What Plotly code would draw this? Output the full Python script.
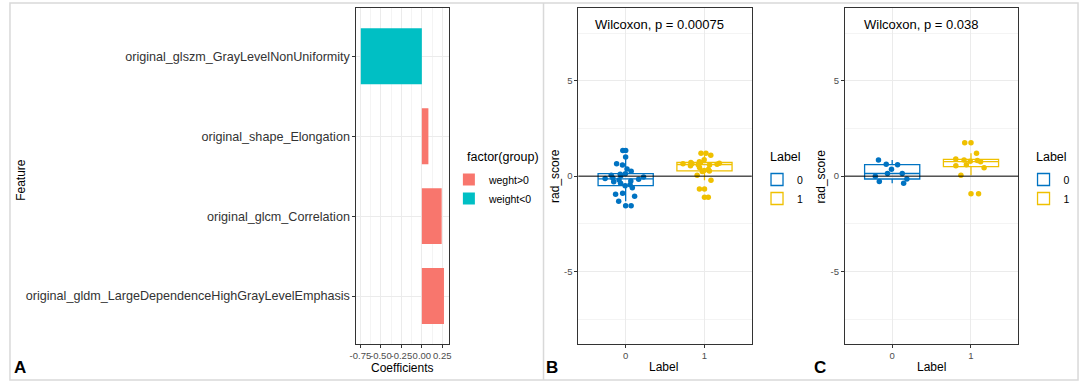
import plotly.graph_objects as go

W, H = 1084, 384

# ---------------- data ----------------
features = [
    "original_glszm_GrayLevelNonUniformity",
    "original_shape_Elongation",
    "original_glcm_Correlation",
    "original_gldm_LargeDependenceHighGrayLevelEmphasis",
]
coefs = [-0.745, 0.08, 0.242, 0.27]
group_names = ["weght>0", "weight<0"]
group_colors = ["#F8766D", "#00BFC4"]

coef_ticks = [-0.75, -0.5, -0.25, 0.0, 0.25]
coef_ticktext = ["-0.75", "-0.50", "-0.25", "0.00", "0.25"]

labels = ["0", "1"]
label_colors = ["#0073C2", "#EFC000"]

b_label0 = [1.35, 1.0, 0.65, 0.58, 0.37, 0.26, 0.13, 0.1, 0.05, 0.02, -0.05, -0.1, -0.12,
            -0.16, -0.2, -0.25, -0.3, -0.37, -0.45, -0.5, -0.61, -0.89, -0.95, -1.06, -1.31, -1.55]
b_label1 = [1.2, 1.1, 1.2, 0.86, 0.75, 0.72, 0.7, 0.68, 0.65, 0.65, 0.62, 0.6, 0.58, 0.55,
            0.45, 0.35, 0.3, 0.27, 0.25, 0.05, -0.22, -0.68, -1.1]
c_label0 = [0.85, 0.63, 0.6, 0.36, 0.14, 0.14, 0.0, -0.15, -0.28, -0.37]
c_label1 = [-0.92, 0.05, 0.44, 0.55, 0.6, 0.75, 0.78, 0.82, 0.85, 0.9, 1.2, 1.75]

score_ticks = [-5, 0, 5]
score_ticktext = ["-5", "0", "5"]
p_text_b = "Wilcoxon, p = 0.00075"
p_text_c = "Wilcoxon, p = 0.038"

# ---------------- helpers ----------------
def px(x):
    return x / W

def py(y):
    return 1 - y / H

FONT = "Liberation Sans, Arial, sans-serif"
TICKC = "#4D4D4D"
BORDER = "#333333"
GRID = "#EBEBEB"
MINOR = "#F4F4F4"

fig = go.Figure()

# ---------------- panel A ----------------
pos_x = [c for c in coefs if c > 0]
pos_y = [f for f, c in zip(features, coefs) if c > 0]
neg_x = [c for c in coefs if c <= 0]
neg_y = [f for f, c in zip(features, coefs) if c <= 0]

fig.add_trace(go.Bar(x=pos_x, y=pos_y, orientation="h", width=0.7, name=group_names[0],
                     marker=dict(color=group_colors[0], line=dict(width=0)),
                     xaxis="x", yaxis="y", legend="legend"))
fig.add_trace(go.Bar(x=neg_x, y=neg_y, orientation="h", width=0.7, name=group_names[1],
                     marker=dict(color=group_colors[1], line=dict(width=0)),
                     xaxis="x", yaxis="y", legend="legend"))

# ---------------- panels B, C ----------------
def add_panel(vals_list, xa, ya, leg):
    for lab, vals, col in zip(labels, vals_list, label_colors):
        xs = [int(lab)] * len(vals)
        # outline box with outliers at centre
        fig.add_trace(go.Box(x=xs, y=vals, name=lab, width=0.7, whiskerwidth=0,
                             boxpoints="outliers", pointpos=0, jitter=0,
                             line=dict(color=col, width=1.3),
                             fillcolor="rgba(255,255,255,0)",
                             marker=dict(color=col, size=5.5),
                             xaxis=xa, yaxis=ya, legend=leg, showlegend=True))
        # jittered points
        fig.add_trace(go.Box(x=xs, y=vals, name=lab, width=0.7, whiskerwidth=0,
                             boxpoints="all", pointpos=0, jitter=0.8,
                             line=dict(color="rgba(0,0,0,0)", width=0),
                             fillcolor="rgba(0,0,0,0)",
                             marker=dict(color=col, size=5.5),
                             xaxis=xa, yaxis=ya, legend=leg, showlegend=False))

add_panel([b_label0, b_label1], "x2", "y2", "legend2")
add_panel([c_label0, c_label1], "x3", "y3", "legend3")

# ---------------- axes ----------------
ydom = [py(344), py(8.3)]
common = dict(showline=True, linecolor=BORDER, linewidth=1, mirror=True,
              ticks="outside", ticklen=3, tickcolor=BORDER, tickwidth=1,
              gridcolor=GRID, gridwidth=1, zeroline=False, tickangle=0,
              tickfont=dict(family=FONT, size=9.5, color=TICKC))

fig.update_layout(
    xaxis=dict(domain=[px(352.7), px(446)], range=[-0.798, 0.33],
               tickvals=coef_ticks, ticktext=coef_ticktext,
               minor=dict(dtick=0.125, tick0=0, showgrid=True, gridcolor=MINOR, ticks=""),
               anchor="y", **common),
    yaxis=dict(domain=ydom, type="category", categoryorder="array",
               categoryarray=features[::-1], range=[-0.6, 3.6], anchor="x",
               **{**common, "tickfont": dict(family=FONT, size=12.6, color="#333333")}),
    xaxis2=dict(domain=[px(576.7), px(751.7)], range=[-0.6, 1.6],
                tickvals=[0, 1], ticktext=labels, anchor="y2", **common),
    yaxis2=dict(domain=ydom, range=[-8.8, 8.8], tickvals=score_ticks, ticktext=score_ticktext,
                minor=dict(dtick=2.5, tick0=0, showgrid=True, gridcolor=MINOR, ticks=""),
                anchor="x2", **common),
    xaxis3=dict(domain=[px(845.7), px(1020.7)], range=[-0.6, 1.6],
                tickvals=[0, 1], ticktext=labels, anchor="y3", **common),
    yaxis3=dict(domain=ydom, range=[-8.8, 8.8], tickvals=score_ticks, ticktext=score_ticktext,
                minor=dict(dtick=2.5, tick0=0, showgrid=True, gridcolor=MINOR, ticks=""),
                anchor="x3", **common),
)

# ---------------- legends ----------------
def legend_cfg(x):
    return dict(x=px(x), y=py(165), xanchor="left", yanchor="top",
                bgcolor="rgba(0,0,0,0)", borderwidth=0,
                font=dict(family=FONT, size=10.5, color="#000"),
                tracegroupgap=0, itemwidth=30)

fig.update_layout(
    legend=legend_cfg(446),
    legend2=legend_cfg(757),
    legend3=legend_cfg(1026),
)

# ---------------- shapes ----------------
shapes = [
    dict(type="rect", xref="paper", yref="paper", x0=px(3), x1=px(1081), y0=py(380), y1=py(3),
         line=dict(color="#D9D9D9", width=1.5), fillcolor="rgba(0,0,0,0)", layer="below"),
    dict(type="line", xref="paper", yref="paper", x0=px(541.5), x1=px(541.5), y0=py(380), y1=py(3),
         line=dict(color="#D9D9D9", width=1.5)),
    dict(type="line", xref="x2 domain", yref="y2", x0=0, x1=1, y0=0, y1=0,
         line=dict(color="#000000", width=1)),
    dict(type="line", xref="x3 domain", yref="y3", x0=0, x1=1, y0=0, y1=0,
         line=dict(color="#000000", width=1)),
]

# ---------------- annotations ----------------
def ann(text, x, y, size=12, angle=0, bold=False, anchor="center"):
    t = f"<b>{text}</b>" if bold else text
    return dict(text=t, x=px(x), y=py(y), xref="paper", yref="paper", showarrow=False,
                xanchor=anchor, yanchor="middle", textangle=angle,
                font=dict(family=FONT, size=size, color="#000"))

annotations = [
    ann("Feature", 14, 180, angle=-90),
    ann("Coefficients", 399, 368),
    ann("rad_score", 553, 176, angle=-90),
    ann("rad_score", 822, 176, angle=-90),
    ann("Label", 663, 367),
    ann("Label", 933, 367),
    ann(p_text_b, 659, 24, size=13),
    ann(p_text_c, 923, 24, size=13),
    ann("factor(group)", 462, 157, size=12.5, anchor="left"),
    ann("Label", 768, 157, size=12.5, anchor="left"),
    ann("Label", 1037, 157, size=12.5, anchor="left"),
    ann("A", 13, 367, size=17, bold=True),
    ann("B", 550, 367, size=17, bold=True),
    ann("C", 821, 367, size=17, bold=True),
]

fig.update_layout(
    width=W, height=H, margin=dict(l=0, r=0, t=0, b=0),
    paper_bgcolor="white", plot_bgcolor="white",
    barmode="overlay", boxmode="overlay",
    shapes=shapes, annotations=annotations,
    font=dict(family=FONT, color="#000"),
)

fig.write_html("out.html", config={"displayModeBar": False},
               post_script="document.body.style.margin='0';")
